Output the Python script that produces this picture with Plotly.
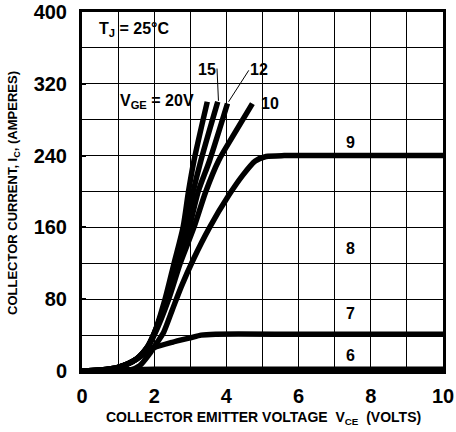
import plotly.graph_objects as go

# Output characteristics, Tj = 25 C
vge20_x = [0, 0.5, 1.0, 1.5, 1.8, 2.0, 2.3, 2.55, 2.8, 2.95, 3.1, 3.47]
vge20_y = [0, 1, 4, 13, 26, 42, 80, 120, 160, 200, 234, 300]
vge15_x = [0, 0.5, 1.0, 1.5, 1.8, 2.0, 2.33, 2.6, 2.88, 3.08, 3.29, 3.76]
vge15_y = [0, 1, 4, 13, 26, 42, 80, 120, 160, 200, 234, 300]
vge12_x = [0, 0.5, 1.0, 1.5, 1.8, 2.0, 2.36, 2.65, 2.97, 3.22, 3.53, 4.03]
vge12_y = [0, 1, 4, 13, 26, 42, 80, 120, 160, 200, 234, 298]
vge10_x = [0, 0.5, 1.0, 1.5, 1.8, 2.0, 2.4, 2.72, 3.1, 3.43, 3.78, 4.2, 4.72]
vge10_y = [0, 1, 4, 13, 25, 40, 80, 120, 160, 200, 234, 263, 298]
vge9_x = [0, 1.3, 1.6, 1.85, 2.0, 2.26, 2.5, 2.75, 3.08, 3.52, 4.07, 4.45, 4.8, 5.1, 5.6, 7.0, 10.0]
vge9_y = [0, 0.5, 6, 18, 27, 43, 68, 94, 124, 159, 196, 218, 234, 239, 240, 240, 240]
vge7_x = [0, 0.5, 1.0, 1.5, 1.8, 2.0, 2.5, 3.0, 3.3, 3.7, 6.0, 10.0]
vge7_y = [0, 1, 4, 13, 21, 26, 32, 37, 40, 41, 41, 41]
vge6_x = [0, 1.0, 2.0, 4.0, 6.0, 8.0, 10.0]
vge6_y = [0, 1, 2, 2, 2, 2, 2]

x_ticks = [0, 2, 4, 6, 8, 10]
y_ticks = [0, 80, 160, 240, 320, 400]

curve_labels = ["15", "12", "10", "9", "8", "7", "6"]
label_x = [3.46, 4.89, 5.2, 7.43, 7.43, 7.43, 7.43]
label_y = [336, 336, 298, 255, 136, 64, 17]

fig = go.Figure()
for xs, ys, sm in [(vge6_x, vge6_y, 0.8), (vge7_x, vge7_y, 0.6), (vge9_x, vge9_y, 0.6),
                   (vge10_x, vge10_y, 0.8), (vge12_x, vge12_y, 0.8), (vge15_x, vge15_y, 0.8),
                   (vge20_x, vge20_y, 0.8)]:
    fig.add_trace(go.Scatter(x=xs, y=ys, mode="lines",
                             line=dict(color="black", width=5.5, shape="spline", smoothing=sm),
                             showlegend=False, hoverinfo="skip"))

# leader lines
fig.add_trace(go.Scatter(x=[3.74, 3.78], y=[337, 301], mode="lines",
                         line=dict(color="black", width=1), showlegend=False))
fig.add_trace(go.Scatter(x=[4.62, 4.06], y=[335, 300], mode="lines",
                         line=dict(color="black", width=1), showlegend=False))

font_b = "Liberation Sans, Arial, sans-serif"
for t, x, y in zip(curve_labels, label_x, label_y):
    fig.add_annotation(x=x, y=y, text="<b>%s</b>" % t, showarrow=False,
                       font=dict(family=font_b, size=16, color="black"))
fig.add_annotation(x=2.07, y=300, text="<b>V<sub>GE</sub> = 20V</b>", showarrow=False,
                   font=dict(family=font_b, size=16, color="black"))
fig.add_annotation(x=1.43, y=381, text="<b>T<sub>J</sub> = 25°C</b>", showarrow=False,
                   font=dict(family=font_b, size=16, color="black"))

# axis titles
fig.add_annotation(xref="paper", yref="paper", x=0.503, y=-0.132, yanchor="middle",
                   text="<b>COLLECTOR EMITTER VOLTAGE  V<sub>CE</sub>  (VOLTS)</b>", showarrow=False,
                   font=dict(family=font_b, size=14, color="black"))
fig.add_annotation(xref="paper", yref="paper", x=-0.19, y=0.497, xanchor="center",
                   textangle=-90,
                   text="<b>COLLECTOR CURRENT, I<sub>C</sub>, (AMPERES)</b>", showarrow=False,
                   font=dict(family=font_b, size=13, color="black"))

axis_common = dict(
    showline=True, linecolor="black", linewidth=3, mirror=True,
    showgrid=True, gridcolor="black", gridwidth=1, automargin=False,
    zeroline=False, ticks="inside", ticklen=4, tickwidth=2, tickcolor="black",
    tickfont=dict(family=font_b, size=20, color="black"),
)
fig.update_xaxes(range=[0, 10], tickvals=x_ticks, ticktext=["<b>%d</b>" % v for v in x_ticks],
                 minor=dict(dtick=1, showgrid=True, gridcolor="black", gridwidth=1),
                 ticklabelstandoff=5, **axis_common)
fig.update_yaxes(range=[0, 400], tickvals=y_ticks, ticktext=["<b>%d</b>" % v for v in y_ticks],
                 minor=dict(dtick=40, showgrid=True, gridcolor="black", gridwidth=1),
                 ticklabelstandoff=8, **axis_common)

fig.update_layout(width=456, height=432, margin=dict(l=82, r=13, t=12, b=61),
                  plot_bgcolor="white", paper_bgcolor="white")
fig.write_html("out.html")
